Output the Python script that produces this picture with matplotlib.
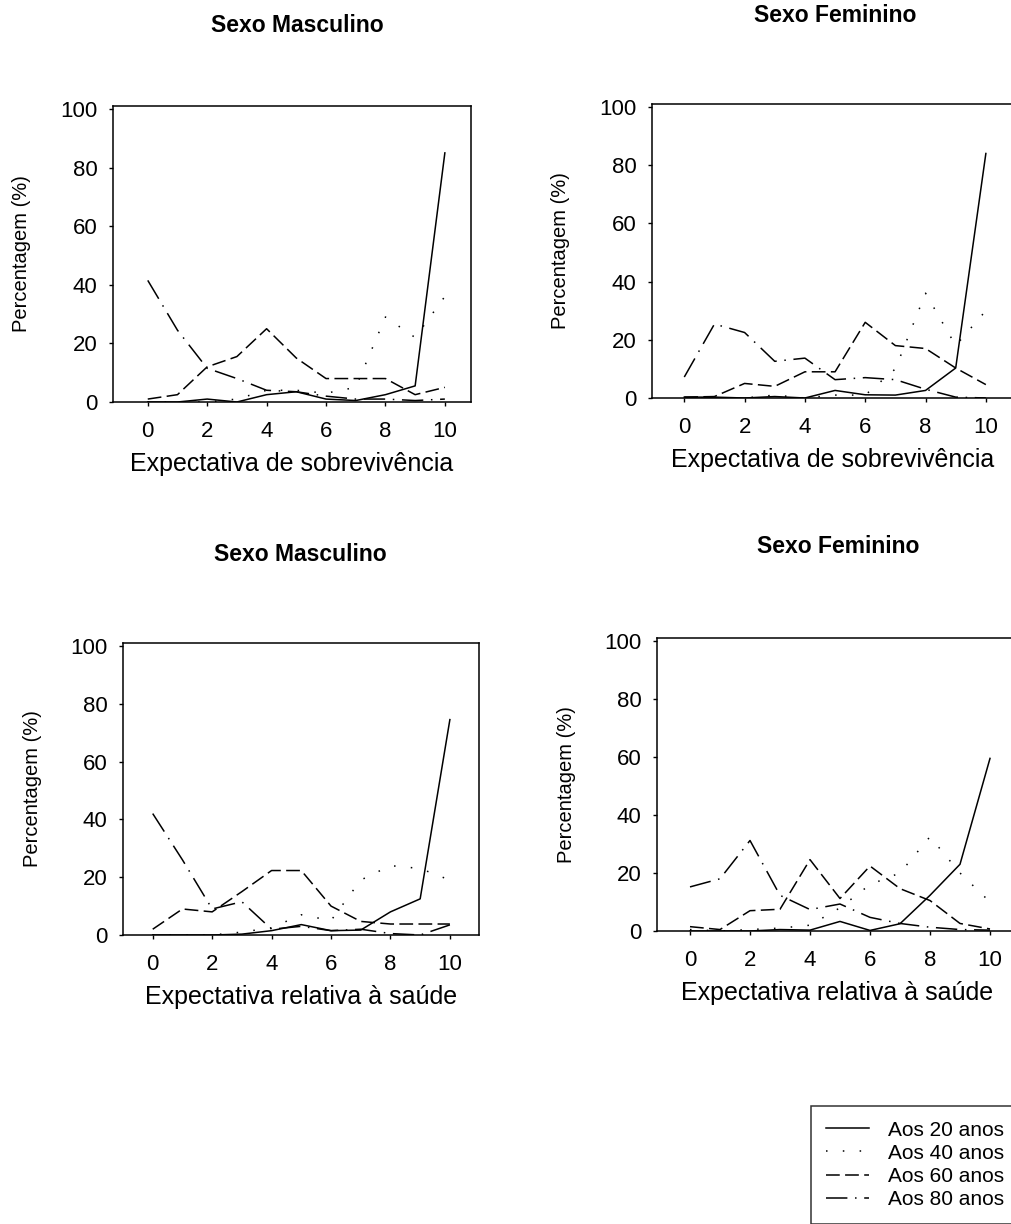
import numpy as np
import matplotlib
matplotlib.use("Agg")
import matplotlib.pyplot as plt

plt.rcParams['font.family'] = ['Liberation Sans', 'DejaVu Sans']

# eixo x comum
pontos = [0, 1, 2, 3, 4, 5, 6, 7, 8, 9, 10]
series = ["Aos 20 anos", "Aos 40 anos", "Aos 60 anos", "Aos 80 anos"]

# Expectativa de sobrevivência - masculino
sobrev_m_20 = [0, 0, 1, 0, 2.5, 3.5, 1, 0.5, 2.5, 5.5, 85]
sobrev_m_40 = [0, 0, 0, 1, 4, 4, 3, 5, 29, 22, 36]
sobrev_m_60 = [1, 2.5, 12, 15.5, 25, 15, 8, 8, 8, 2.5, 5]
sobrev_m_80 = [41.5, 24.5, 11.5, 8, 4, 3.5, 2, 1, 1, 0.5, 1]

# Expectativa de sobrevivência - feminino
sobrev_f_20 = [0.3, 0.3, 0, 0.5, 0, 2.6, 1.1, 1, 2.6, 10.3, 84]
sobrev_f_40 = [0, 0, 0, 1, 0, 1, 1, 10, 36, 18, 30]
sobrev_f_60 = [0.3, 0.5, 5, 4, 9, 9, 26, 18, 17, 10.3, 4.6]
sobrev_f_80 = [7.2, 25.4, 22.5, 12.6, 13.7, 6.3, 7, 6.3, 3, 0.3, 0]

# Expectativa relativa à saúde - masculino
saude_m_20 = [0, 0, 0, 0.3, 1.5, 3.6, 1.5, 1.7, 8, 12.5, 74.5]
saude_m_40 = [0, 0, 0, 1, 2.5, 7, 5, 19, 24, 23, 19]
saude_m_60 = [2, 9, 8, 15, 22.3, 22.3, 10, 4.7, 3.8, 3.8, 3.8]
saude_m_80 = [42, 26, 9, 11.5, 2, 3, 1.5, 2, 0.5, 0, 3.5]

# Expectativa relativa à saúde - feminino
saude_f_20 = [0, 0, 0, 0.5, 0.3, 3.3, 0.2, 2.5, 12.3, 23, 59.5]
saude_f_40 = [0.5, 0, 0.5, 1, 2, 8, 16, 20, 32.5, 20, 10]
saude_f_60 = [1.5, 0.5, 7, 7.5, 24.6, 11.2, 22.4, 14.6, 10.5, 2.6, 0.7]
saude_f_80 = [15.2, 18, 31.2, 12.3, 7.4, 9.3, 4.7, 2.6, 1.3, 0.5, 0.3]

estilos = ['-', (0, (1, 10)), (0, (9, 3.5)), (0, (14, 5, 1, 5))]

W, H = 1011, 1224
fig = plt.figure(figsize=(W / 100, H / 100), dpi=100)


def painel(l, r, t, b, xlim, dados, titulo, xlabel, tx=0.5, ty=1.26):
    ax = fig.add_axes([l / W, 1 - b / H, (r - l) / W, (b - t) / H])
    for vals, ls in zip(dados, estilos):
        ax.plot(pontos, vals, color='black', lw=1.1, linestyle=ls)
    ax.set_xlim(*xlim)
    ax.set_ylim(0, 101)
    ax.set_xticks([0, 2, 4, 6, 8, 10])
    ax.set_yticks([0, 20, 40, 60, 80, 100])
    ax.tick_params(direction='out', length=3, width=1, labelsize=16)
    ax.tick_params(axis='x', pad=11)
    ax.tick_params(axis='y', pad=8)
    for s in ax.spines.values():
        s.set_linewidth(1.1)
    ax.set_title(titulo, fontsize=16.5, fontweight='bold', x=tx, y=ty, va='center')
    ax.set_xlabel(xlabel, fontsize=18)
    ax.xaxis.set_label_coords(0.5, -62 / (b - t))
    ax.xaxis.label.set_verticalalignment('center')
    ax.set_ylabel("Percentagem (%)", fontsize=14.5, va='center')
    ax.yaxis.set_label_coords(-91 / (r - l), 0.5)
    return ax


painel(113, 471, 106, 402, (-1.17, 10.88),
       [sobrev_m_20, sobrev_m_40, sobrev_m_60, sobrev_m_80],
       "Sexo Masculino", "Expectativa de sobrevivência", tx=0.514, ty=1.243)
painel(652, 1013, 104, 398, (-1.07, 10.9),
       [sobrev_f_20, sobrev_f_40, sobrev_f_60, sobrev_f_80],
       "Sexo Feminino", "Expectativa de sobrevivência", tx=0.507, ty=1.272)
painel(123, 479, 643, 935, (-1.0, 10.98),
       [saude_m_20, saude_m_40, saude_m_60, saude_m_80],
       "Sexo Masculino", "Expectativa relativa à saúde", tx=0.497, ty=1.276)
ax4 = painel(657, 1017, 638, 931, (-1.1, 10.9),
             [saude_f_20, saude_f_40, saude_f_60, saude_f_80],
             "Sexo Feminino", "Expectativa relativa à saúde", tx=0.503, ty=1.283)

handles = ax4.get_lines()
leg = fig.legend(handles, series, loc='upper left',
                 bbox_to_anchor=(811 / W, 1 - 1106 / H), fontsize=15,
                 frameon=True, fancybox=False, edgecolor='black',
                 handlelength=2.1, handletextpad=0.9, labelspacing=0.2,
                 borderpad=0.7, borderaxespad=0)
leg.get_frame().set_linewidth(1.1)

fig.savefig("out.png", dpi=100)
